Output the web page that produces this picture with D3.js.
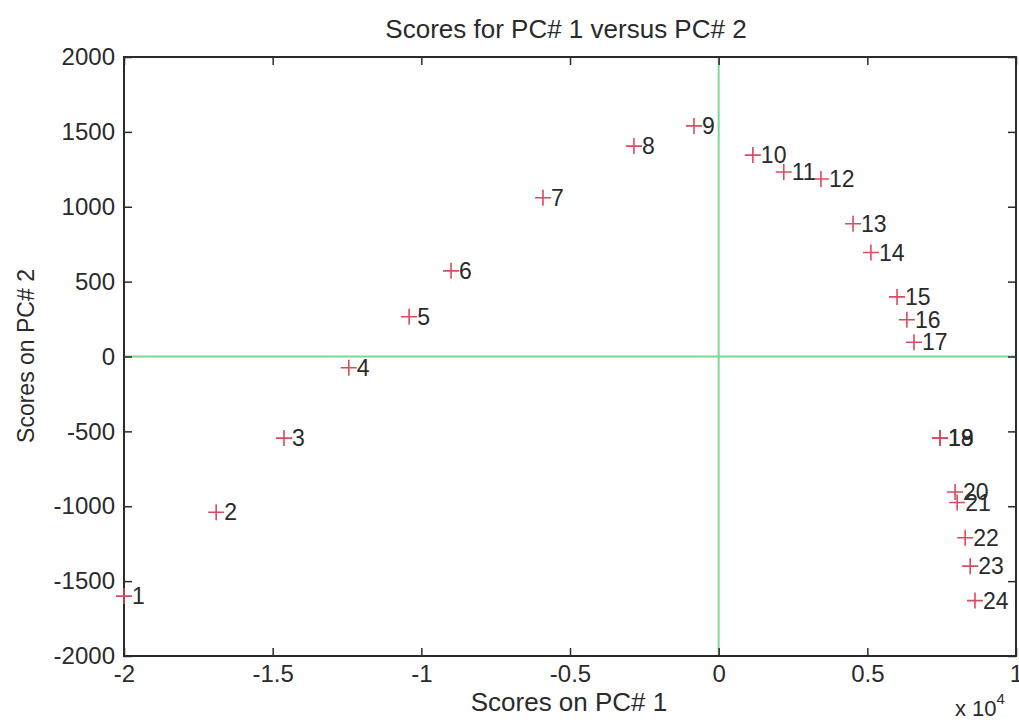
<!DOCTYPE html>
<html>
<head>
<meta charset="utf-8">
<script src="https://cdn.jsdelivr.net/npm/d3@7"></script>
<style>
  html, body { margin: 0; padding: 0; background: #ffffff; }
  svg { display: block; }
  text { font-family: "Liberation Sans", Arial, sans-serif; fill: #2a2a2a; }
</style>
</head>
<body>
<svg id="chart" width="1019" height="722"></svg>
<script>
// Sample numbers and their PCA scores
const sampleIds = ["1","2","3","4","5","6","7","8","9","10","11","12",
                   "13","14","15","16","17","18","19","20","21","22","23","24"];
const pc1Scores = [-20000, -16900, -14620, -12440, -10410, -9000, -5910, -2850, -830,
                   1150, 2190, 3440, 4520, 5120, 6000, 6330, 6570, 7440, 7450,
                   7950, 8020, 8290, 8460, 8620];
const pc2Scores = [-1600, -1040, -545, -75, 265, 572, 1060, 1405, 1540,
                   1345, 1232, 1185, 886, 694, 398, 245, 95, -545, -545,
                   -905, -975, -1210, -1400, -1630];

const xTicks = [-20000, -15000, -10000, -5000, 0, 5000, 10000];
const yTicks = [-2000, -1500, -1000, -500, 0, 500, 1000, 1500, 2000];

const svg = d3.select("#chart");
const plotL = 124, plotR = 1016, plotT = 57, plotB = 656;

const x = d3.scaleLinear().domain([-20000, 10000]).range([plotL, plotR]);
const y = d3.scaleLinear().domain([-2000, 2000]).range([plotB, plotT]);

const frameColor = "#2b2b2b";
const tickLen = 8;
const fontStack = '"Liberation Sans", Arial, sans-serif';

// Zero reference lines
svg.append("line")
  .attr("x1", x(0)).attr("x2", x(0)).attr("y1", plotT).attr("y2", plotB)
  .attr("stroke", "#7dd894").attr("stroke-width", 2);
svg.append("line")
  .attr("x1", plotL).attr("x2", plotR).attr("y1", y(0)).attr("y2", y(0))
  .attr("stroke", "#7dd894").attr("stroke-width", 2);

// Axes with inward ticks on all four sides
const fmtX = d => String(d / 10000);
const fmtY = d => String(d);
const gBottom = svg.append("g").attr("transform", `translate(0,${plotB})`)
  .call(d3.axisBottom(x).tickValues(xTicks).tickFormat(fmtX).tickSizeInner(-tickLen).tickSizeOuter(0).tickPadding(9));
const gTop = svg.append("g").attr("transform", `translate(0,${plotT})`)
  .call(d3.axisTop(x).tickValues(xTicks).tickFormat("").tickSizeInner(-tickLen).tickSizeOuter(0));
const gLeft = svg.append("g").attr("transform", `translate(${plotL},0)`)
  .call(d3.axisLeft(y).tickValues(yTicks).tickFormat(fmtY).tickSizeInner(-tickLen).tickSizeOuter(0).tickPadding(9));
const gRight = svg.append("g").attr("transform", `translate(${plotR},0)`)
  .call(d3.axisRight(y).tickValues(yTicks).tickFormat("").tickSizeInner(-tickLen).tickSizeOuter(0));

[gBottom, gTop, gLeft, gRight].forEach(g => {
  g.select(".domain").remove();
  g.selectAll(".tick line").attr("stroke", frameColor).attr("stroke-width", 1.5);
  g.selectAll("text").attr("font-size", 24).attr("fill", "#2a2a2a")
    .style("font-family", fontStack);
});

// Box frame
svg.append("rect")
  .attr("x", plotL).attr("y", plotT).attr("width", plotR - plotL).attr("height", plotB - plotT)
  .attr("fill", "none").attr("stroke", frameColor).attr("stroke-width", 2);

// Points: plus markers with sample number labels
const pts = sampleIds.map((id, i) => ({ id, px: pc1Scores[i], py: pc2Scores[i] }));
const m = 8;
const gPts = svg.append("g");
pts.slice().reverse().forEach(p => {
  const cx = x(p.px), cy = y(p.py);
  gPts.append("path")
    .attr("d", `M${cx - m},${cy}H${cx + m}M${cx},${cy - m}V${cy + m}`)
    .attr("stroke", "#dc4a5e").attr("stroke-width", 1.6).attr("fill", "none");
  gPts.append("text")
    .attr("x", cx + 8).attr("y", cy + 8)
    .attr("font-size", 23)
    .text(p.id);
});

// Titles
svg.append("text").attr("x", 566).attr("y", 38).attr("text-anchor", "middle")
  .attr("font-size", 26).text("Scores for PC# 1 versus PC# 2");
svg.append("text").attr("x", 569).attr("y", 711).attr("text-anchor", "middle")
  .attr("font-size", 26).text("Scores on PC# 1");
svg.append("text").attr("transform", "translate(34,356) rotate(-90)")
  .attr("text-anchor", "middle").attr("font-size", 23).text("Scores on PC# 2");

// Exponent note for the x axis
const ex = svg.append("text").attr("x", 955).attr("y", 716).attr("font-size", 22);
ex.append("tspan").text("x 10");
ex.append("tspan").attr("dy", -12).attr("font-size", 15).text("4");
</script>
</body>
</html>
